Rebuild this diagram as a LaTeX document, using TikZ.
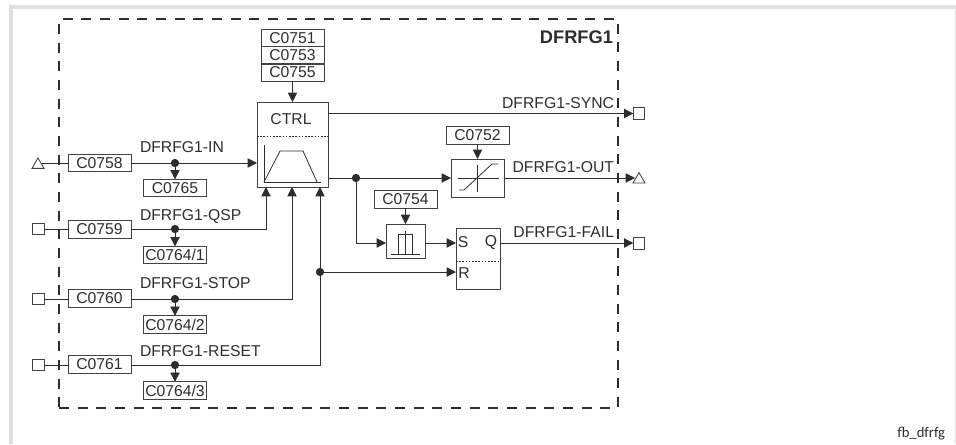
\documentclass[tikz,border=0pt]{standalone}
\usepackage{fontspec}
\setmainfont{Liberation Sans}
\newfontfamily\notefont{Carlito}
\usepackage{xcolor}
\usetikzlibrary{arrows.meta,shapes.geometric}
\definecolor{ink}{RGB}{45,45,45}
\definecolor{edge}{RGB}{224,224,224}
\tikzset{
  base/.style={draw=ink!90, line width=0.65pt, inner sep=0pt, outer sep=0pt},
  code/.style={base, minimum width=47.25pt, minimum height=13pt, text=ink, font=\fontsize{11.8pt}{13pt}\selectfont},
  lbl/.style={inner sep=0pt, outer sep=0pt, text=ink, font=\fontsize{11.8pt}{13pt}\selectfont},
  portq/.style={base, minimum size=8.5pt},
  portt/.style={base, regular polygon, regular polygon sides=3, minimum size=10.4pt},
  dot/.style={circle, fill=ink, inner sep=0pt, outer sep=0pt, minimum size=6.2pt},
  wire/.style={draw=ink, line width=0.65pt},
  flow/.style={wire, -{Triangle[length=7pt, width=7pt]}},
  sep/.style={draw=ink, line width=0.6pt, dash pattern=on 1.2pt off 1.2pt},
  symb/.style={draw=ink, line width=0.6pt},
}
\begin{document}
\begin{tikzpicture}[x=0.75pt, y=-0.75pt]
  \useasboundingbox (0,0) rectangle (956,444);
  \fill[edge] (9,5) rectangle (956,9);
  \fill[edge] (9,5) rectangle (13,444);
  \fill[edge] (955,5) rectangle (956,444);
  \node[draw=ink, line width=1.1pt, dash pattern=on 7.5pt off 6.5pt, minimum width=419.25pt, minimum height=291.75pt, inner sep=0pt, outer sep=0pt] (fbframe) at (338.5,213.5) {};
  \node[lbl, anchor=east, font=\fontsize{13.7pt}{15pt}\selectfont\bfseries] (fbname) at (613,37) {DFRFG1};
  \node[lbl, anchor=east, font=\fontsize{11pt}{13pt}\notefont] (fbnote) at (945,434) {fb\_dfrfg};

  \node[base, minimum width=53.25pt, minimum height=63.75pt] (ctrl) at (292.5,144.5) {};
  \node[lbl] (ctrltxt) at (291,119) {CTRL};
  \draw[sep] (ctrl.west |- 0,136) -- (ctrl.east |- 0,136);
  \draw[symb] (264,145) -- (264,182) -- (321,182);
  \draw[symb] (264,182) -- (280,151) -- (303,151) -- (317,182);

  \node[code] (c0751) at (292.5,38) {C0751};
  \node[code] (c0753) at (292.5,55.5) {C0753};
  \node[code] (c0755) at (292.5,72.5) {C0755};
  \draw[flow] (c0755.south) -- (ctrl.north);

  \node[portt] (intri) at (38,164.9) {};
  \node[portq] (qspq) at (38.5,229) {};
  \node[portq] (stopq) at (38.5,299) {};
  \node[portq] (resetq) at (38.5,365) {};

  \node[code] (c0758) at (99.5,163) {C0758};
  \node[code] (c0759) at (99.5,229.5) {C0759};
  \node[code] (c0760) at (99.5,298.5) {C0760};
  \node[code] (c0761) at (99.5,364.5) {C0761};

  \node[code] (c0765) at (175,188) {C0765};
  \node[code] (c07641) at (175,255) {C0764/1};
  \node[code] (c07642) at (175,324.5) {C0764/2};
  \node[code] (c07643) at (175,390.5) {C0764/3};

  \node[dot] (dotin) at (175,163) {};
  \node[dot] (dotqsp) at (175,229) {};
  \node[dot] (dotstop) at (175,299) {};
  \node[dot] (dotreset) at (175,365) {};

  \node[lbl, anchor=west] (lblin) at (140,147) {DFRFG1-IN};
  \node[lbl, anchor=west] (lblqsp) at (140,216) {DFRFG1-QSP};
  \node[lbl, anchor=west] (lblstop) at (140,283) {DFRFG1-STOP};
  \node[lbl, anchor=west] (lblreset) at (140,351) {DFRFG1-RESET};

  \draw[wire] (c0758.west) -- (c0758.west -| intri.east);
  \draw[wire] (qspq) -- (dotqsp -| c0759.west);
  \draw[wire] (stopq) -- (dotstop -| c0760.west);
  \draw[wire] (resetq) -- (dotreset -| c0761.west);

  \coordinate (ctrlqsp) at (266,187);
  \coordinate (ctrlstop) at (292,187);
  \coordinate (ctrlreset) at (320,187);
  \draw[flow] (c0758.east) -- (c0758.east -| ctrl.west);
  \draw[flow] (dotqsp -| c0759.east) -| (ctrlqsp);
  \draw[flow] (dotstop -| c0760.east) -| (ctrlstop);
  \draw[flow] (dotreset -| c0761.east) -| (ctrlreset);

  \draw[flow] (dotin) -- (c0765.north);
  \draw[flow] (dotqsp) -- (c07641.north);
  \draw[flow] (dotstop) -- (c07642.north);
  \draw[flow] (dotreset) -- (c07643.north);

  \node[base, minimum width=39.75pt, minimum height=28.5pt] (limit) at (477.5,178) {};
  \node[code] (c0752) at (477.5,135.5) {C0752};
  \draw[flow] (c0752.south) -- (limit.north);
  \draw[symb] (458,178) -- (499,178);
  \draw[symb] (477,165) -- (477,192);
  \draw[symb] (459,190) -- (464,190) -- (492,164) -- (498,164);

  \node[base, minimum width=29.25pt, minimum height=25.5pt] (pulse) at (405.5,241) {};
  \node[code] (c0754) at (405.5,199.5) {C0754};
  \draw[flow] (c0754.south) -- (pulse.north);
  \draw[symb] (391,254) -- (420,254);
  \draw[symb] (398,254) -- (398,234) -- (412,234) -- (412,254);
  \draw[symb] (405,231) -- (405,254);

  \node[base, minimum width=33pt, minimum height=45.75pt] (srff) at (478,258.5) {};
  \draw[sep] (srff.west |- 0,261) -- (srff.east |- 0,261);
  \node[lbl] (srs) at (463,242) {S};
  \node[lbl] (srq) at (491,242) {Q};
  \node[lbl] (srr) at (464,273) {R};

  \node[dot] (dotout) at (356,178) {};
  \node[dot] (dotr) at (320,272) {};
  \coordinate (sline) at (0,243);
  \draw[flow] (dotout -| ctrl.east) -- (dotout -| limit.west);
  \draw[flow] (dotout) |- (sline -| pulse.west);
  \draw[flow] (sline -| pulse.east) -- (sline -| srff.west);
  \draw[flow] (dotr) -- (dotr -| srff.west);

  \node[portq] (syncq) at (639,113.5) {};
  \node[portt] (outtri) at (639,179.5) {};
  \node[portq] (failq) at (639,243.5) {};
  \draw[flow] (ctrl.east |- syncq) -- (syncq.west);
  \draw[flow] (limit.east) -- (limit.east -| outtri.west);
  \draw[flow] (srff.east |- sline) -- (sline -| failq.west);

  \node[lbl, anchor=east] (lblsync) at (614,103) {DFRFG1-SYNC};
  \node[lbl, anchor=east] (lblout) at (614,167) {DFRFG1-OUT};
  \node[lbl, anchor=east] (lblfail) at (614,232) {DFRFG1-FAIL};
\end{tikzpicture}
\end{document}
